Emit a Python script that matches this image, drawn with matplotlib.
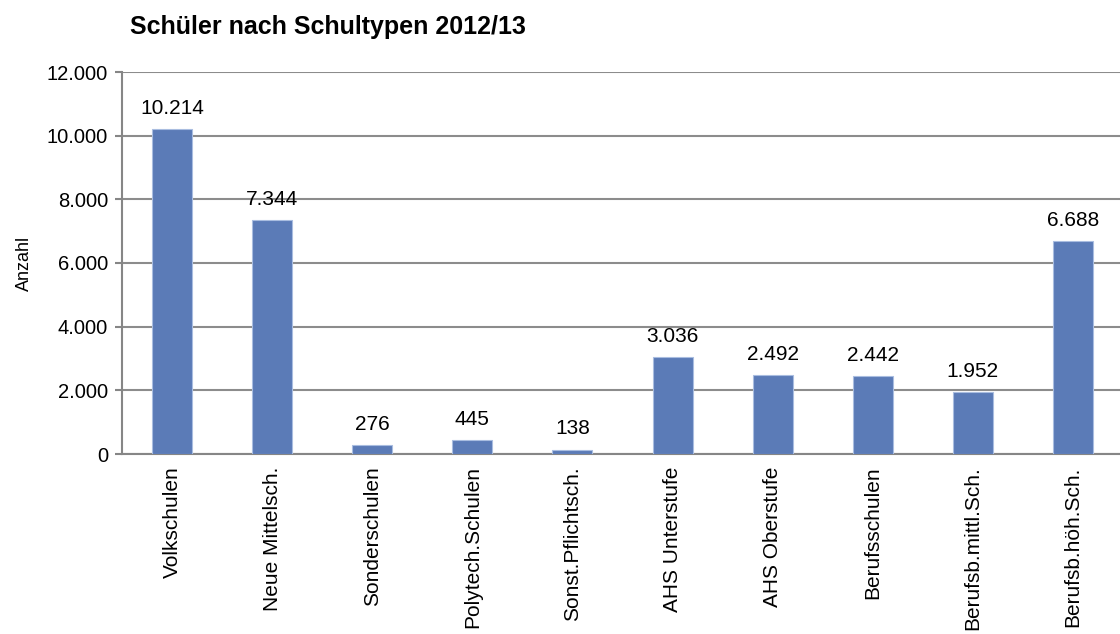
import matplotlib
matplotlib.use('Agg')
import matplotlib.pyplot as plt
from matplotlib.ticker import FuncFormatter

# data
# ----
schultypen = ['Volkschulen', 'Neue Mittelsch.', 'Sonderschulen', 'Polytech.Schulen',
              'Sonst.Pflichtsch.', 'AHS Unterstufe', 'AHS Oberstufe', 'Berufsschulen',
              'Berufsb.mittl.Sch.', 'Berufsb.höh.Sch.']
anzahl = [10214, 7344, 276, 445, 138, 3036, 2492, 2442, 1952, 6688]
yticks = [0, 2000, 4000, 6000, 8000, 10000, 12000]


def de_fmt(v, pos=None):
    return '{:,.0f}'.format(v).replace(',', '.')


plt.rcParams['font.family'] = ['Liberation Sans', 'DejaVu Sans']

fig = plt.figure(figsize=(11.2, 6.34), dpi=100)
ax = fig.add_axes([122 / 1120, 1 - 454 / 634, (1123 - 122) / 1120, (454 - 72) / 634])

x = range(len(schultypen))
ax.bar(x, anzahl, width=0.4, color='#5b7bb7', edgecolor='#a9bde0', linewidth=0.8, zorder=3)

# value labels --
for i, v in zip(x, anzahl):
    ax.annotate(de_fmt(v), (i, v), xytext=(0, 8), textcoords='offset points',
                ha='center', va='bottom', fontsize=15, color='black')

# axes --
ax.set_xlim(-0.5, len(schultypen) - 0.5)
ax.set_ylim(0, 12000)
ax.set_yticks(yticks)
ax.yaxis.set_major_formatter(FuncFormatter(de_fmt))
ax.set_xticks(list(x))
ax.set_xticklabels(schultypen, rotation=90, fontsize=15)
ax.tick_params(axis='y', labelsize=14.5, length=5, width=1.5, color='#868686', pad=5)
ax.tick_params(axis='x', length=0, pad=9)
ax.grid(axis='y', color='#8c8c8c', lw=1.5, zorder=0)

for s in ['top', 'right']:
    ax.spines[s].set_visible(False)
for s in ['left', 'bottom']:
    ax.spines[s].set_color('#868686')
    ax.spines[s].set_linewidth(1.5)

ax.set_ylabel('Anzahl', fontsize=13, labelpad=10)
fig.text(130 / 1120, 1 - 27 / 634, 'Schüler nach Schultypen 2012/13', fontsize=18,
         fontweight='bold', ha='left', va='center')

fig.savefig('out.png', dpi=100)
